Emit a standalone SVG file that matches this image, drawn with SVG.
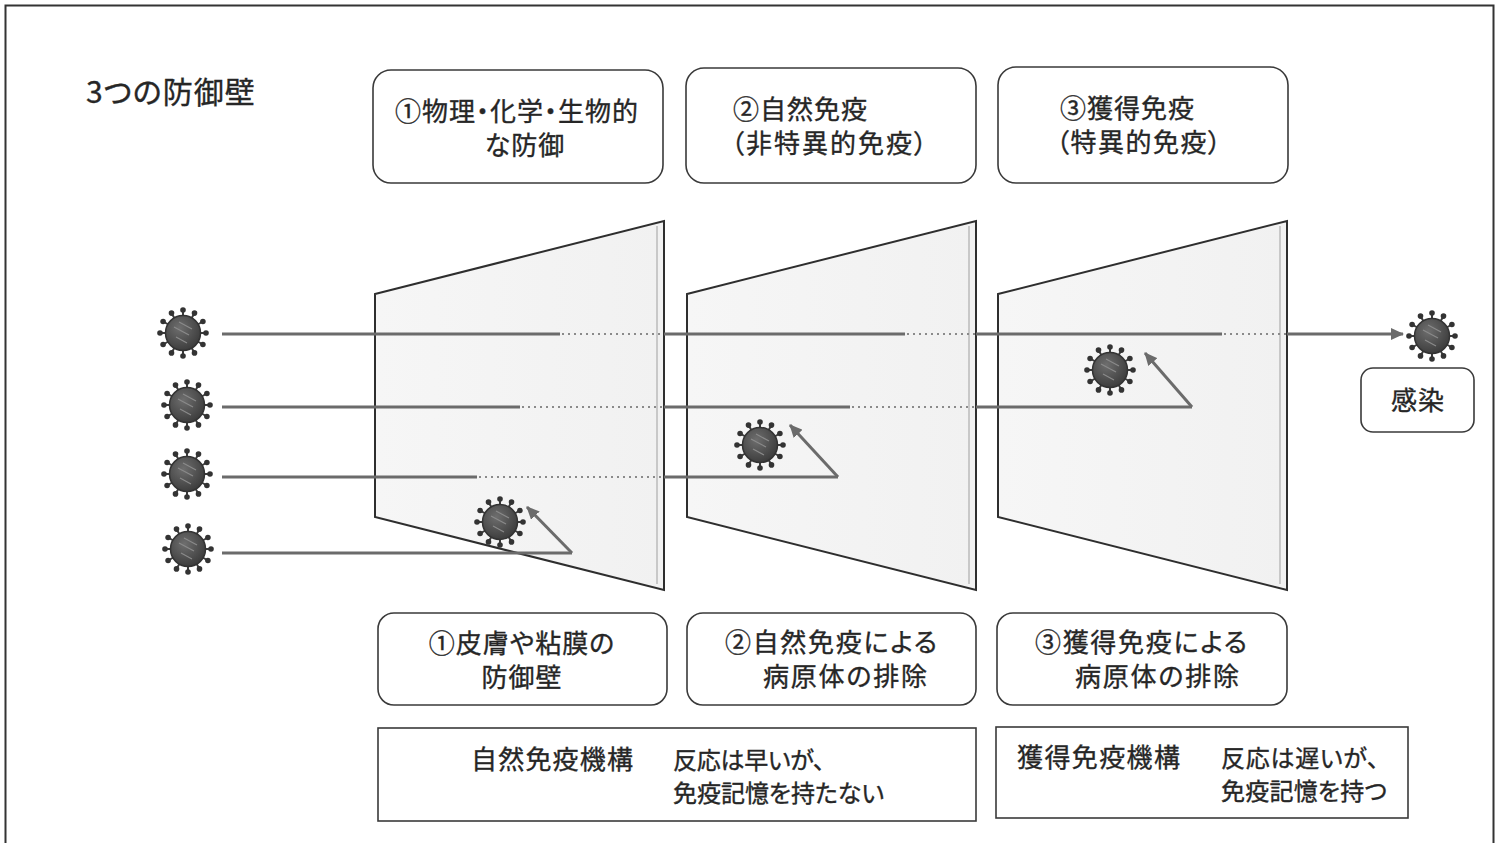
<svg xmlns="http://www.w3.org/2000/svg" xmlns:xlink="http://www.w3.org/1999/xlink" width="1501" height="843" viewBox="0 0 1501 843">
  <style>
    text { font-family: "Noto Sans CJK JP", "Noto Sans", sans-serif; font-size: 26px; letter-spacing: 1px; font-feature-settings: "palt"; fill: #262626; stroke: #262626; stroke-width: 0.35px; }
    .note { font-size: 24px; }
    .title { font-size: 30px; letter-spacing: 1px; }
    .box { fill: #ffffff; stroke: #3a3a3a; stroke-width: 1.6; }
    .panel { fill: url(#panelFill); stroke: #2e2e2e; stroke-width: 2; }
    .inner { fill: none; stroke: #c8c8c8; stroke-width: 2; }
    .path { fill: none; stroke: #6b6b6b; stroke-width: 3; }
    .hidden { fill: none; stroke: #8a8a8a; stroke-width: 2; stroke-dasharray: 2 4; }
  </style>
  <defs>
    <linearGradient id="panelFill" x1="0" y1="0" x2="1" y2="0">
      <stop offset="0" stop-color="#f6f6f6"/>
      <stop offset="1" stop-color="#f1f1f1"/>
    </linearGradient>
    <radialGradient id="virusBody" cx="0.4" cy="0.35" r="0.7">
      <stop offset="0" stop-color="#6e6e6e"/>
      <stop offset="1" stop-color="#3a3a3a"/>
    </radialGradient>
    <marker id="arrow" markerUnits="userSpaceOnUse" markerWidth="14" markerHeight="12" refX="12" refY="6" orient="auto">
      <path d="M0,0 L13,6 L0,12 Z" fill="#6b6b6b"/>
    </marker>
    <!-- spiked virus particle -->
    <symbol id="virus" viewBox="-27 -27 54 54" overflow="visible">
      <g stroke="#3a3a3a" stroke-width="2">
        <line x1="0" y1="-17" x2="0" y2="-22"/>
        <line x1="8.5" y1="-14.7" x2="11" y2="-19"/>
        <line x1="14.7" y1="-8.5" x2="19" y2="-11"/>
        <line x1="17" y1="0" x2="22" y2="0"/>
        <line x1="14.7" y1="8.5" x2="19" y2="11"/>
        <line x1="8.5" y1="14.7" x2="11" y2="19"/>
        <line x1="0" y1="17" x2="0" y2="22"/>
        <line x1="-8.5" y1="14.7" x2="-11" y2="19"/>
        <line x1="-14.7" y1="8.5" x2="-19" y2="11"/>
        <line x1="-17" y1="0" x2="-22" y2="0"/>
        <line x1="-14.7" y1="-8.5" x2="-19" y2="-11"/>
        <line x1="-8.5" y1="-14.7" x2="-11" y2="-19"/>
      </g>
      <circle r="17.5" fill="url(#virusBody)" stroke="#333" stroke-width="1.5"/>
      <g fill="#333">
        <circle cx="0" cy="-23" r="2.8"/>
        <circle cx="11.5" cy="-19.9" r="2.8"/>
        <circle cx="19.9" cy="-11.5" r="2.8"/>
        <circle cx="23" cy="0" r="2.8"/>
        <circle cx="19.9" cy="11.5" r="2.8"/>
        <circle cx="11.5" cy="19.9" r="2.8"/>
        <circle cx="0" cy="23" r="2.8"/>
        <circle cx="-11.5" cy="19.9" r="2.8"/>
        <circle cx="-19.9" cy="11.5" r="2.8"/>
        <circle cx="-23" cy="0" r="2.8"/>
        <circle cx="-19.9" cy="-11.5" r="2.8"/>
        <circle cx="-11.5" cy="-19.9" r="2.8"/>
      </g>
      <path d="M-9,-6 L6,2 M-4,-11 L9,-4 M-7,4 L4,10" stroke="#8a8a8a" stroke-width="1.2" fill="none"/>
    </symbol>
  </defs>

  <rect x="0" y="0" width="1501" height="843" fill="#ffffff"/>
  <!-- outer frame -->
  <rect x="5.5" y="5.5" width="1488" height="850" fill="none" stroke="#333" stroke-width="2"/>

  <text id="title" class="title" x="86" y="103">3つの防御壁</text>

  <!-- top heading boxes -->
  <g id="head1">
    <rect class="box" x="373" y="70" width="290" height="113" rx="18"/>
    <text x="517" y="121" text-anchor="middle">①物理・化学・生物的</text>
    <text x="525" y="155" text-anchor="middle">な防御</text>
  </g>
  <g id="head2">
    <rect class="box" x="686" y="68" width="290" height="115" rx="18"/>
    <text x="733" y="119">②自然免疫</text>
    <text x="731" y="153" textLength="197">（非特異的免疫）</text>
  </g>
  <g id="head3">
    <rect class="box" x="998" y="67" width="290" height="116" rx="18"/>
    <text x="1060" y="118">③獲得免疫</text>
    <text x="1056" y="152" textLength="166">（特異的免疫）</text>
  </g>

  <!-- defensive walls -->
  <g id="wall1">
    <polygon class="panel" points="375,294 664,221 664,590 375,517"/>
    <line class="inner" x1="657" y1="226" x2="657" y2="584"/>
  </g>
  <g id="wall2">
    <polygon class="panel" points="687,294 976,221 976,590 687,517"/>
    <line class="inner" x1="969" y1="226" x2="969" y2="584"/>
  </g>
  <g id="wall3">
    <polygon class="panel" points="998,294 1287,221 1287,590 998,517"/>
    <line class="inner" x1="1280" y1="226" x2="1280" y2="584"/>
  </g>

  <!-- pathogen routes -->
  <g id="connectors">
    <!-- route 1: passes all walls -->
    <line class="path" x1="222" y1="334" x2="560" y2="334"/>
    <line class="hidden" x1="562" y1="334" x2="664" y2="334"/>
    <line class="path" x1="664" y1="334" x2="905" y2="334"/>
    <line class="hidden" x1="907" y1="334" x2="976" y2="334"/>
    <line class="path" x1="976" y1="334" x2="1222" y2="334"/>
    <line class="hidden" x1="1224" y1="334" x2="1287" y2="334"/>
    <line class="path" x1="1287" y1="334" x2="1403" y2="334" marker-end="url(#arrow)"/>
    <!-- route 2: stopped at wall 3 -->
    <line class="path" x1="222" y1="407" x2="520" y2="407"/>
    <line class="hidden" x1="522" y1="407" x2="664" y2="407"/>
    <line class="path" x1="664" y1="407" x2="850" y2="407"/>
    <line class="hidden" x1="852" y1="407" x2="976" y2="407"/>
    <line class="path" x1="976" y1="407" x2="1192" y2="407"/>
    <line class="path" x1="1192" y1="407" x2="1145" y2="353" marker-end="url(#arrow)"/>
    <!-- route 3: stopped at wall 2 -->
    <line class="path" x1="222" y1="477" x2="477" y2="477"/>
    <line class="hidden" x1="479" y1="477" x2="664" y2="477"/>
    <line class="path" x1="664" y1="477" x2="838" y2="477"/>
    <line class="path" x1="838" y1="477" x2="790" y2="425" marker-end="url(#arrow)"/>
    <!-- route 4: stopped at wall 1 -->
    <line class="path" x1="222" y1="553" x2="572" y2="553"/>
    <line class="path" x1="572" y1="553" x2="527" y2="507" marker-end="url(#arrow)"/>
  </g>

  <!-- pathogens -->
  <g id="virus-in1"><use xlink:href="#virus" href="#virus" x="156" y="306" width="54" height="54"/></g>
  <g id="virus-in2"><use xlink:href="#virus" href="#virus" x="160" y="378" width="54" height="54"/></g>
  <g id="virus-in3"><use xlink:href="#virus" href="#virus" x="160" y="447" width="54" height="54"/></g>
  <g id="virus-in4"><use xlink:href="#virus" href="#virus" x="161" y="522" width="54" height="54"/></g>
  <g id="virus-wall1"><use xlink:href="#virus" href="#virus" x="473" y="495" width="54" height="54"/></g>
  <g id="virus-wall2"><use xlink:href="#virus" href="#virus" x="733" y="418" width="54" height="54"/></g>
  <g id="virus-wall3"><use xlink:href="#virus" href="#virus" x="1083" y="343" width="54" height="54"/></g>
  <g id="virus-out"><use xlink:href="#virus" href="#virus" x="1405" y="309" width="54" height="54"/></g>

  <g id="infection">
    <rect class="box" x="1361" y="368" width="113" height="64" rx="12"/>
    <text x="1418" y="410" text-anchor="middle">感染</text>
  </g>

  <!-- result boxes -->
  <g id="result1">
    <rect class="box" x="378" y="613" width="289" height="92" rx="16"/>
    <text x="522" y="653" text-anchor="middle">①皮膚や粘膜の</text>
    <text x="522" y="687" text-anchor="middle">防御壁</text>
  </g>
  <g id="result2">
    <rect class="box" x="687" y="613" width="289" height="92" rx="16"/>
    <text x="725" y="652" textLength="213">②自然免疫による</text>
    <text x="763" y="686" textLength="165">病原体の排除</text>
  </g>
  <g id="result3">
    <rect class="box" x="997" y="613" width="290" height="92" rx="16"/>
    <text x="1035" y="652" textLength="213">③獲得免疫による</text>
    <text x="1075" y="686" textLength="165">病原体の排除</text>
  </g>

  <!-- mechanism summaries -->
  <g id="innate">
    <rect class="box" x="378" y="728" width="598" height="93"/>
    <text x="471" y="769" textLength="163">自然免疫機構</text>
    <text class="note" x="673" y="769" textLength="153">反応は早いが、</text>
    <text class="note" x="673" y="802" textLength="212">免疫記憶を持たない</text>
  </g>
  <g id="acquired">
    <rect class="box" x="996" y="727" width="412" height="91"/>
    <text x="1017" y="767" textLength="164">獲得免疫機構</text>
    <text class="note" x="1221" y="767" textLength="159">反応は遅いが、</text>
    <text class="note" x="1221" y="800" textLength="167">免疫記憶を持つ</text>
  </g>
</svg>
